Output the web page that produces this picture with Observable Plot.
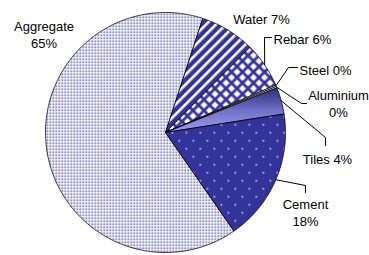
<!DOCTYPE html>
<html><head><meta charset="utf-8">
<script src="https://cdn.jsdelivr.net/npm/d3@7"></script>
<script src="https://cdn.jsdelivr.net/npm/@observablehq/plot@0.6"></script>
<style>body{margin:0;background:#fff}</style>
</head><body><div id="chart"></div>
<script>
// ---- data ----
const categories = ["Aggregate", "Water", "Rebar", "Steel", "Aluminium", "Tiles", "Cement"];
const shares = [64.7, 7.4, 6.1, 0.2, 0.2, 3.6, 17.8];

// ---- styling / layout (kept apart from the data) ----
const W = 369, H = 255, CX = 165, CY = 132, R = 120;
const startDeg = 145.2;
const fills = ["url(#pAgg)", "url(#pWater)", "url(#pRebar)", "#ffffff", "#ffffff", "url(#gTiles)", "url(#pCement)"];
// label: centre/start offset in px from pie centre, anchor, wrap, leader points (px offsets) after the arc point
const layout = {
  Aggregate: {dx: 43.5 - CX, dy: 33.3 - CY, anchor: "middle", wrap: true, leader: null},
  Water:     {dx: 261 - CX, dy: 17.8 - CY, anchor: "middle", wrap: false, leader: null},
  Rebar:     {dx: 273 - CX, dy: 37.8 - CY, anchor: "start", wrap: false, leader: [[264 - CX, 37 - CY], [271 - CX, 37 - CY]]},
  Steel:     {dx: 299 - CX, dy: 68.8 - CY, anchor: "start", wrap: false, leader: [[288 - CX, 67 - CY], [297 - CX, 67 - CY]]},
  Aluminium: {dx: 338 - CX, dy: 102.8 - CY, anchor: "middle", wrap: true, leader: [[301 - CX, 103 - CY], [306 - CX, 103 - CY]]},
  Tiles:     {dx: 327 - CX, dy: 157.8 - CY, anchor: "middle", wrap: false, leader: [[325 - CX, 137 - CY], [325 - CX, 145 - CY]]},
  Cement:    {dx: 305 - CX, dy: 211.8 - CY, anchor: "middle", wrap: true, leader: [[305 - CX, 185 - CY], [305 - CX, 192 - CY]]}
};

// ---- geometry from data ----
const a0 = startDeg * Math.PI / 180;
const arcs = d3.pie().sort(null).startAngle(a0).endAngle(a0 + 2 * Math.PI)(shares);
const slicePts = [];
const leaderPts = [];
const labels = [];
arcs.forEach((a, i) => {
  const name = categories[i];
  const n = Math.max(2, Math.ceil((a.endAngle - a.startAngle) / (Math.PI / 360)));
  slicePts.push({name, fill: fills[i], x: 0, y: 0});
  for (let k = 0; k <= n; k++) {
    const t = a.startAngle + (a.endAngle - a.startAngle) * k / n;
    slicePts.push({name, fill: fills[i], x: Math.sin(t), y: Math.cos(t)});
  }
  slicePts.push({name, fill: fills[i], x: 0, y: 0});
  const L = layout[name];
  const mid = (a.startAngle + a.endAngle) / 2;
  if (L.leader) {
    leaderPts.push({name, x: Math.sin(mid), y: Math.cos(mid)});
    L.leader.forEach(([px, py]) => leaderPts.push({name, x: px / R, y: -py / R}));
  }
  const pct = Math.round(shares[i]) + "%";
  labels.push({name, anchor: L.anchor, x: L.dx / R, y: -L.dy / R, text: name + (L.wrap ? "\n" : " ") + pct});
});

const font = "'Liberation Sans', Arial, Helvetica, sans-serif";
const chart = Plot.plot({
  width: W, height: H,
  marginLeft: 0, marginRight: 0, marginTop: 0, marginBottom: 0,
  x: {domain: [-CX / R, (W - CX) / R], axis: null},
  y: {domain: [(CY - H) / R, CY / R], axis: null},
  color: {type: "identity"},
  style: {fontFamily: font, fontSize: "13px", background: "#fff", overflow: "visible"},
  marks: [
    Plot.line(slicePts, {x: "x", y: "y", z: "name", fill: "fill", stroke: "#000", strokeWidth: 0.8, strokeLinejoin: "round"}),
    Plot.line(leaderPts, {x: "x", y: "y", z: "name", stroke: "#000", strokeWidth: 1}),
    Plot.text(labels.filter(d => d.anchor === "middle"), {x: "x", y: "y", text: "text", textAnchor: "middle", lineHeight: 1.3, fill: "#000", fontSize: 13}),
    Plot.text(labels.filter(d => d.anchor === "start"), {x: "x", y: "y", text: "text", textAnchor: "start", lineHeight: 1.3, fill: "#000", fontSize: 13})
  ]
});

const defs = `
<pattern id="pAgg" width="3" height="3" patternUnits="userSpaceOnUse">
  <rect width="3" height="3" fill="#ffffff"/><rect x="1" y="1" width="1.5" height="1.5" fill="#3a3a9c"/>
</pattern>
<pattern id="pWater" width="7" height="7" patternUnits="userSpaceOnUse" patternTransform="rotate(45)">
  <rect width="7" height="7" fill="#333399"/><rect width="2.6" height="7" fill="#ffffff"/>
</pattern>
<pattern id="pRebar" width="11" height="11" patternUnits="userSpaceOnUse">
  <rect width="11" height="11" fill="#333399"/>
  <path fill="#ffffff" d="M5.5 2L9 5.5L5.5 9L2 5.5Z M0 -3.5L3.5 0L0 3.5L-3.5 0Z M11 -3.5L14.5 0L11 3.5L7.5 0Z M0 7.5L3.5 11L0 14.5L-3.5 11Z M11 7.5L14.5 11L11 14.5L7.5 11Z"/>
</pattern>
<pattern id="pCement" width="14" height="16" patternUnits="userSpaceOnUse">
  <rect width="14" height="16" fill="#333399"/>
  <rect x="3" y="3.5" width="1.6" height="1.6" fill="#dcdcff"/><rect x="10" y="11.5" width="1.6" height="1.6" fill="#dcdcff"/>
</pattern>
<linearGradient id="gTiles" x1="0" y1="0" x2="0" y2="1">
  <stop offset="0" stop-color="#2a2a7a"/><stop offset="0.5" stop-color="#7070c8"/><stop offset="1" stop-color="#9c9cf0"/>
</linearGradient>`;
const d = d3.select(chart).insert("defs", ":first-child");
d.html(defs);
document.getElementById("chart").appendChild(chart);
</script>
</body></html>
